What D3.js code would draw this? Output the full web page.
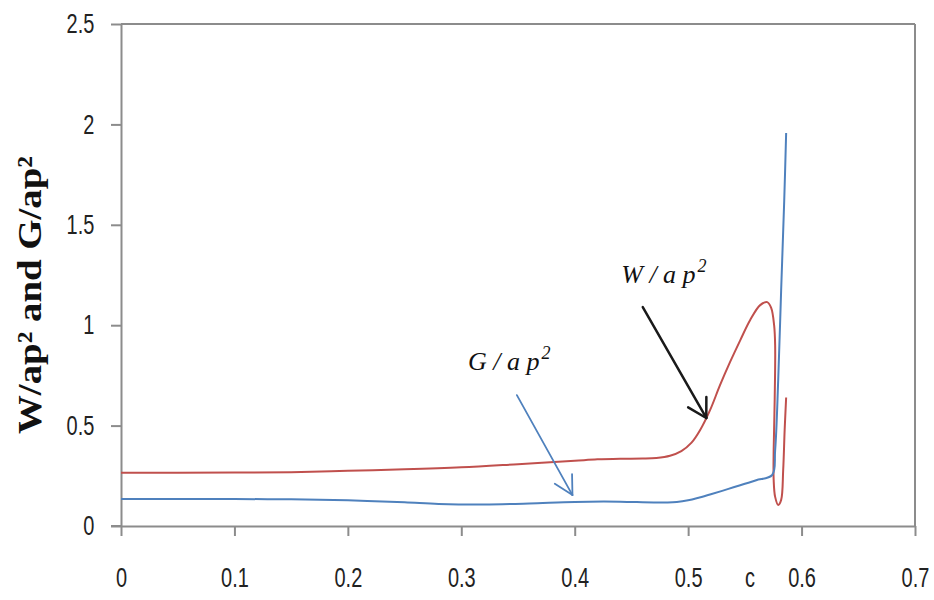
<!DOCTYPE html>
<html>
<head>
<meta charset="utf-8">
<script src="https://cdn.jsdelivr.net/npm/d3@7"></script>
<style>
  body { margin: 0; background: #fff; }
</style>
</head>
<body>
<div id="chart"></div>
<script>
// W/ap^2 curve (red) - c values and heights
const wC = [0, 0.05, 0.1, 0.15, 0.2, 0.25, 0.3, 0.35, 0.4, 0.42, 0.44, 0.46, 0.472, 0.484, 0.494, 0.503, 0.5106, 0.5194, 0.528, 0.537, 0.546, 0.5547, 0.5635, 0.5697, 0.5732, 0.5758, 0.5767, 0.5763, 0.5754, 0.5754, 0.5767, 0.5794, 0.582, 0.5838, 0.5851, 0.5864];
const wV = [0.265, 0.265, 0.266, 0.268, 0.275, 0.282, 0.292, 0.308, 0.325, 0.332, 0.335, 0.336, 0.339, 0.35, 0.373, 0.415, 0.478, 0.578, 0.70, 0.817, 0.926, 1.026, 1.10, 1.115, 1.086, 1.00, 0.90, 0.63, 0.38, 0.23, 0.145, 0.105, 0.13, 0.28, 0.48, 0.64];

// G/ap^2 curve (blue)
const gC = [0, 0.05, 0.1, 0.15, 0.2, 0.25, 0.28, 0.32, 0.36, 0.4, 0.44, 0.47, 0.49, 0.5, 0.51, 0.52, 0.53, 0.54, 0.55, 0.56, 0.5741, 0.5767, 0.5794, 0.582, 0.5847, 0.5864];
const gV = [0.134, 0.134, 0.134, 0.133, 0.128, 0.118, 0.11, 0.107, 0.112, 0.12, 0.121, 0.117, 0.12, 0.128, 0.142, 0.158, 0.175, 0.193, 0.21, 0.228, 0.254, 0.378, 0.727, 1.175, 1.62, 1.957];

// axis ticks
const xTicks = [0, 0.1, 0.2, 0.3, 0.4, 0.5, 0.6, 0.7];
const xTickLabels = ['0', '0.1', '0.2', '0.3', '0.4', '0.5', '0.6', '0.7'];
const yTicks = [0, 0.5, 1, 1.5, 2, 2.5];
const yTickLabels = ['0', '0.5', '1', '1.5', '2', '2.5'];

// annotation arrows: [c tail, v tail, c tip, v tip]
const wArrow = [0.460, 1.09, 0.516, 0.538];
const gArrow = [0.349, 0.652, 0.398, 0.154];
// annotation label anchors: [c, v]
const wLabelPos = [0.441, 1.21];
const gLabelPos = [0.306, 0.777];

const width = 934;
const height = 600;
const plot = { left: 121, right: 915, top: 24, bottom: 526 };

const svg = d3.select('#chart').append('svg')
    .attr('width', width)
    .attr('height', height);

const x = d3.scaleLinear().domain([0, 0.7]).range([plot.left, plot.right]);
const y = d3.scaleLinear().domain([0, 2.5]).range([plot.bottom, plot.top]);

const axisColor = '#8c8c8c';
const tickFont = '"Liberation Sans", Arial, sans-serif';

// frame: top and right borders
svg.append('line')
    .attr('x1', plot.left).attr('x2', plot.right)
    .attr('y1', plot.top).attr('y2', plot.top)
    .attr('stroke', axisColor).attr('stroke-width', 2);
svg.append('line')
    .attr('x1', plot.right).attr('x2', plot.right)
    .attr('y1', plot.top).attr('y2', plot.bottom)
    .attr('stroke', axisColor).attr('stroke-width', 2);

// Y axis
const yAxisG = svg.append('g')
    .attr('transform', `translate(${plot.left},0)`)
    .call(d3.axisLeft(y)
        .tickValues(yTicks)
        .tickSize(10)
        .tickSizeOuter(0)
        .tickFormat((d, i) => yTickLabels[i]));
yAxisG.select('.domain').attr('stroke', axisColor).attr('stroke-width', 2);
yAxisG.selectAll('.tick line').attr('stroke', axisColor).attr('stroke-width', 2);
yAxisG.selectAll('.tick text')
    .attr('x', -36)
    .attr('transform', 'scale(0.74,1)')
    .style('font-family', tickFont)
    .style('font-size', '27px')
    .style('fill', '#222');

// X axis
const xAxisG = svg.append('g')
    .attr('transform', `translate(0,${plot.bottom})`)
    .call(d3.axisBottom(x)
        .tickValues(xTicks)
        .tickSize(10)
        .tickSizeOuter(0)
        .tickFormat((d, i) => xTickLabels[i]));
xAxisG.select('.domain').attr('stroke', axisColor).attr('stroke-width', 2);
xAxisG.selectAll('.tick line').attr('stroke', axisColor).attr('stroke-width', 2);
xAxisG.selectAll('.tick text')
    .attr('y', 61)
    .attr('dy', 0)
    .attr('transform', 'scale(0.74,1)')
    .style('font-family', tickFont)
    .style('font-size', '27px')
    .style('fill', '#222');

// extend the bottom axis line slightly left of the y axis
svg.append('line')
    .attr('x1', plot.left - 10).attr('x2', plot.left)
    .attr('y1', plot.bottom).attr('y2', plot.bottom)
    .attr('stroke', axisColor).attr('stroke-width', 2);

// x axis title "c"
svg.append('text')
    .attr('transform', `translate(${x(0.5545)},587) scale(0.74,1)`)
    .attr('text-anchor', 'middle')
    .style('font-family', tickFont)
    .style('font-size', '27px')
    .style('fill', '#222')
    .text('c');

// y axis title
svg.append('text')
    .attr('transform', 'translate(41,295) rotate(-90)')
    .attr('text-anchor', 'middle')
    .attr('textLength', 278)
    .attr('lengthAdjust', 'spacingAndGlyphs')
    .style('font-family', '"Liberation Serif", "Times New Roman", serif')
    .style('font-weight', 'bold')
    .style('font-size', '33px')
    .style('fill', '#111')
    .text('W/ap² and  G/ap²');

// curves
const line = d3.line()
    .x(d => x(d[0]))
    .y(d => y(d[1]))
    .curve(d3.curveCatmullRom.alpha(0.5));

svg.append('path')
    .datum(wC.map((c, i) => [c, wV[i]]))
    .attr('d', line)
    .attr('fill', 'none')
    .attr('stroke', '#C0504D')
    .attr('stroke-width', 2);

svg.append('path')
    .datum(gC.map((c, i) => [c, gV[i]]))
    .attr('d', line)
    .attr('fill', 'none')
    .attr('stroke', '#4F81BD')
    .attr('stroke-width', 2);

// arrows with open heads
function drawArrow(a, color, w, headLen, headAngle) {
    const x0 = x(a[0]), y0 = y(a[1]), x1 = x(a[2]), y1 = y(a[3]);
    const g = svg.append('g')
        .attr('stroke', color)
        .attr('stroke-width', w)
        .attr('fill', 'none')
        .attr('stroke-linecap', 'round');
    g.append('line').attr('x1', x0).attr('y1', y0).attr('x2', x1).attr('y2', y1);
    const back = Math.atan2(y0 - y1, x0 - x1);
    [-1, 1].forEach(s => {
        const ang = back + s * headAngle;
        g.append('line')
            .attr('x1', x1).attr('y1', y1)
            .attr('x2', x1 + headLen * Math.cos(ang))
            .attr('y2', y1 + headLen * Math.sin(ang));
    });
}
drawArrow(wArrow, '#1a1a1a', 2.5, 21, Math.PI / 6);
drawArrow(gArrow, '#4F81BD', 1.8, 21, Math.PI * 28 / 180);

// annotation labels
function drawLabel(pos, letter) {
    const t = svg.append('text')
        .attr('x', x(pos[0]))
        .attr('y', y(pos[1]))
        .style('font-family', '"Liberation Serif", "Times New Roman", serif')
        .style('font-style', 'italic')
        .style('font-size', '26px')
        .style('fill', '#111');
    t.append('tspan').text(letter + ' / a p');
    t.append('tspan')
        .attr('dy', -11)
        .attr('dx', 2)
        .style('font-size', '18px')
        .text('2');
}
drawLabel(wLabelPos, 'W');
drawLabel(gLabelPos, 'G');
</script>
</body>
</html>
